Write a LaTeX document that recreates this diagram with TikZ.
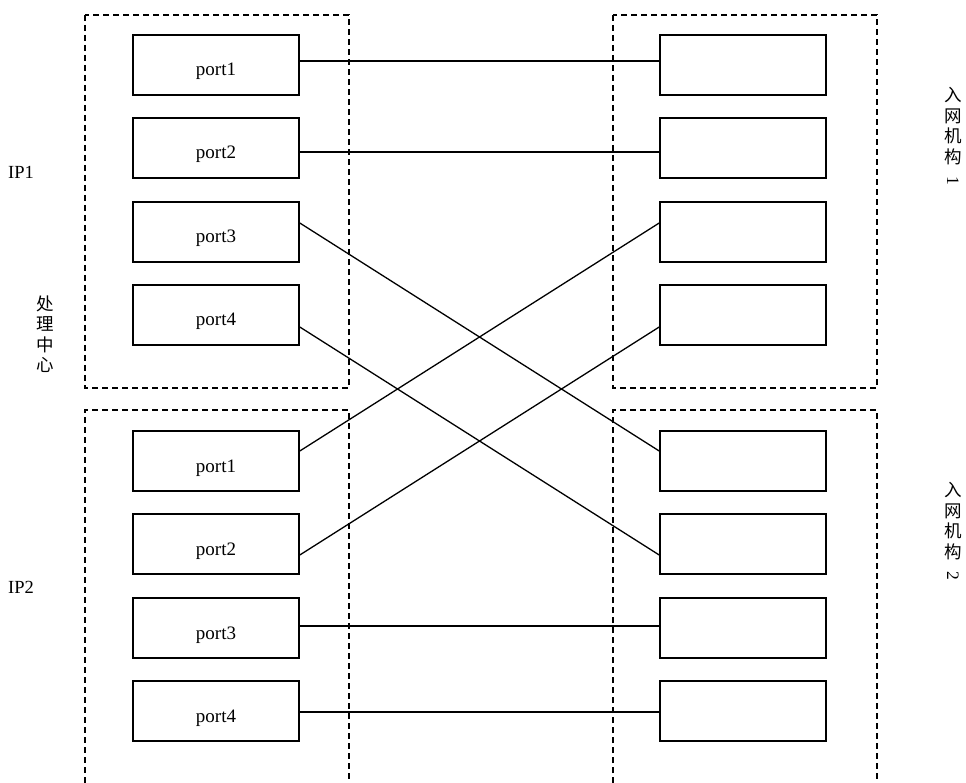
\documentclass[tikz,border=0pt]{standalone}
\usepackage{fontspec}
\usepackage{graphicx}
\setmainfont{Liberation Serif}
\newfontfamily\cjk{Noto Sans CJK SC}
\begin{document}
\begin{tikzpicture}[x=1pt,y=-1pt,
  port/.style={draw,line width=1.6pt,minimum width=166pt,minimum height=60pt,inner sep=0pt,text height=22pt,text depth=0pt,font=\fontsize{19}{21}\selectfont},
  frame/.style={line width=1.2pt,dash pattern=on 6pt off 4pt},
  link/.style={line width=1.3pt},
  vlab/.style={font=\cjk\fontsize{17.5}{20.5}\selectfont,align=center,inner sep=0pt},
  lab/.style={font=\fontsize{18.5}{21}\selectfont,inner sep=0pt}]
\useasboundingbox (0,0) rectangle (966,783);
% frames
\draw[frame] (85,15) rectangle (349,388);
\draw[frame] (613,15) rectangle (877,388);
\draw[frame] (85,783) -- (85,410) -- (349,410) -- (349,783);
\draw[frame] (613,783) -- (613,410) -- (877,410) -- (877,783);
% left top ports
\node[port] (A1) at (216,65) {port1};
\node[port] (A2) at (216,148) {port2};
\node[port] (A3) at (216,232) {port3};
\node[port] (A4) at (216,315) {port4};
% left bottom ports
\node[port] (B1) at (216,461) {port1};
\node[port] (B2) at (216,544) {port2};
\node[port] (B3) at (216,628) {port3};
\node[port] (B4) at (216,711) {port4};
% right top
\node[port] (C1) at (743,65) {};
\node[port] (C2) at (743,148) {};
\node[port] (C3) at (743,232) {};
\node[port] (C4) at (743,315) {};
% right bottom
\node[port] (D1) at (743,461) {};
\node[port] (D2) at (743,544) {};
\node[port] (D3) at (743,628) {};
\node[port] (D4) at (743,711) {};
% links
\draw[link] ([yshift=4pt]A1.east) -- ([yshift=4pt]C1.west);
\draw[link] ([yshift=-4pt]A2.east) -- ([yshift=-4pt]C2.west);
\draw[link] ([yshift=9pt]A3.east) -- ([yshift=10pt]D1.west);
\draw[link] ([yshift=-12pt]A4.east) -- ([yshift=-11pt]D2.west);
\draw[link] ([yshift=10pt]B1.east) -- ([yshift=9pt]C3.west);
\draw[link] ([yshift=-11pt]B2.east) -- ([yshift=-12pt]C4.west);
\draw[link] ([yshift=2pt]B3.east) -- ([yshift=2pt]D3.west);
\draw[link] ([yshift=-1pt]B4.east) -- ([yshift=-1pt]D4.west);
% labels
\node[lab,anchor=west] (ip1) at (8,172) {IP1};
\node[lab,anchor=west] (ip2) at (8,587) {IP2};
\node[vlab] (pc) at (45,334) {处\\理\\中\\心};
\node[vlab,anchor=north] (org1) at (953,87) {入\\网\\机\\构\\[-7pt]\rotatebox{-90}{\rmfamily 1}};
\node[vlab,anchor=north] (org2) at (953,482) {入\\网\\机\\构\\[-7pt]\rotatebox{-90}{\rmfamily 2}};
\end{tikzpicture}
\end{document}
